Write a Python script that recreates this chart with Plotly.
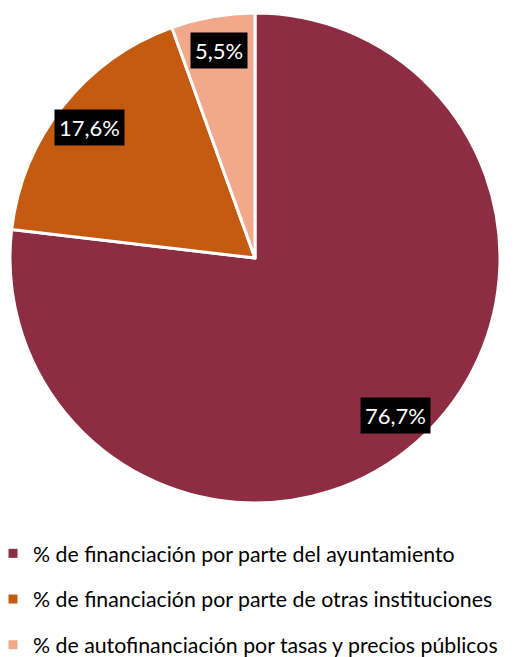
import math
import plotly.graph_objects as go

labels = ["% de financiación por parte del ayuntamiento",
          "% de financiación por parte de otras instituciones",
          "% de autofinanciación por tasas y precios públicos"]
values = [76.7, 17.6, 5.5]
text_labels = ["76,7%", "17,6%", "5,5%"]
colors = ["#8C2D42", "#C55A11", "#F2A98B"]

# page body has an 8px margin; work in screen pixels and convert
OX, OY = 8, 8
W, H = 506, 649
cx_px, cy_px, r_px = 255 - OX, 258 - OY, 245
dom_x = [(cx_px - r_px) / W, (cx_px + r_px) / W]
dom_y = [1 - (cy_px + r_px) / H, 1 - (cy_px - r_px) / H]

fig = go.Figure()
fig.add_trace(go.Pie(
    labels=labels, values=values, sort=False, direction="clockwise", rotation=0,
    marker=dict(colors=colors, line=dict(color="white", width=3)),
    textinfo="none", hoverinfo="label+percent", showlegend=False,
    domain=dict(x=dom_x, y=dom_y),
))

for i, (lab, col) in enumerate(zip(labels, colors)):
    fig.add_trace(go.Scatter(
        x=[None], y=[None], mode="markers", name=lab, legendgroup=f"g{i}",
        marker=dict(symbol="square", size=9, color=col), showlegend=True,
    ))

# label boxes positioned at mid-angle of each slice
total = sum(values)
cum = 0.0
font = "Lato, 'Noto Sans', sans-serif"
for v, t in zip(values, text_labels):
    mid = (cum + v / 2) / total * 2 * math.pi
    cum += v
    rr = 0.86 * r_px
    px = cx_px + rr * math.sin(mid)
    py = cy_px - rr * math.cos(mid)
    fig.add_annotation(
        x=px / W, y=1 - py / H, xref="paper", yref="paper", text=t, showarrow=False,
        font=dict(family=font, size=22, color="white"), bgcolor="black", borderpad=4,
        xanchor="center", yanchor="middle",
    )

fig.update_layout(
    width=W, height=H, margin=dict(l=0, r=0, t=0, b=0, autoexpand=False),
    paper_bgcolor="white", plot_bgcolor="white",
    xaxis=dict(visible=False), yaxis=dict(visible=False),
    font=dict(family=font, size=21.3, color="black"),
    legend=dict(x=-15 / W, y=1 - 525 / H, xanchor="left", yanchor="top",
                tracegroupgap=15, itemwidth=30, bgcolor="rgba(0,0,0,0)"),
)
fig.write_html("out.html")
